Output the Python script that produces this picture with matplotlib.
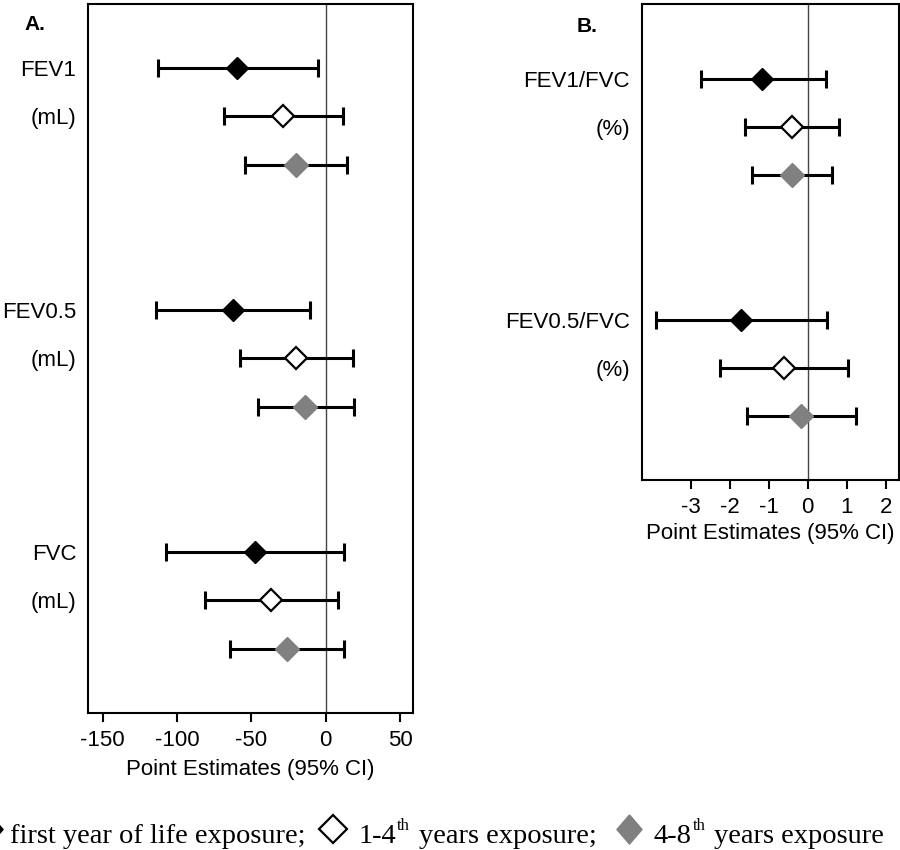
import matplotlib
matplotlib.use("Agg")
import matplotlib.pyplot as plt
from matplotlib.lines import Line2D
import numpy as np

plt.rcParams['font.family'] = ['Liberation Sans', 'DejaVu Sans']

# panel A: FEV1, FEV0.5, FVC (mL)
a_names = ['FEV1', 'FEV0.5', 'FVC']
a_unit = '(mL)'
a_first_est = [-59.4, -62.7, -47.3]
a_first_lo = [-112.8, -113.9, -107.2]
a_first_hi = [-5.4, -10.8, 12.6]
a_mid_est = [-28.7, -19.7, -36.7]
a_mid_lo = [-68.6, -57.9, -81.0]
a_mid_hi = [11.4, 18.2, 8.3]
a_late_est = [-20.2, -13.7, -26.0]
a_late_lo = [-54.0, -45.8, -64.3]
a_late_hi = [14.4, 19.1, 12.6]
a_ticks = [-150, -100, -50, 0, 50]

# panel B: ratios (%)
b_names = ['FEV1/FVC', 'FEV0.5/FVC']
b_unit = '(%)'
b_first_est = [-1.16, -1.71]
b_first_lo = [-2.74, -3.90]
b_first_hi = [0.46, 0.49]
b_mid_est = [-0.39, -0.61]
b_mid_lo = [-1.61, -2.25]
b_mid_hi = [0.80, 1.03]
b_late_est = [-0.39, -0.17]
b_late_lo = [-1.42, -1.56]
b_late_hi = [0.63, 1.24]
b_ticks = [-3, -2, -1, 0, 1, 2]

GRAY = '#808080'
W, H = 900, 850


def px_axes(fig, left, top, right, bottom):
    return fig.add_axes([left / W, 1 - bottom / H, (right - left) / W, (bottom - top) / H])


def draw_panel(ax, names, unit, series, xlim, ylim, ticks, labelpad=7):
    n = len(names)
    styles = [
        dict(marker='D', ms=11.2, mfc='black', mec='black', mew=1.0),
        dict(marker='D', ms=10.8, mfc='white', mec='black', mew=1.6),
        dict(marker='D', ms=12, mfc=GRAY, mec=GRAY, mew=1.0),
    ]
    ax.axvline(0, color='#444444', lw=1.0, zorder=1)
    for k, ((est, lo, hi), st) in enumerate(zip(series, styles)):
        est = np.array(est)
        y = np.arange(n) * 5 + k
        err = [est - np.array(lo), np.array(hi) - est]
        ax.errorbar(est, y, xerr=err, fmt='none', ecolor='black',
                    elinewidth=2.2, capsize=6.5, capthick=2.2, zorder=2)
        ax.plot(est, y, ls='none', zorder=3, **st)

    yt, yl = [], []
    for i, name in enumerate(names):
        yt += [i * 5, i * 5 + 1]
        yl += [name, unit]
    ax.set_yticks(yt)
    ax.set_yticklabels(yl, fontsize=16)
    ax.tick_params(axis='y', length=0, pad=8.5)
    ax.set_xticks(ticks)
    ax.set_xticklabels([str(t) for t in ticks], fontsize=16)
    ax.tick_params(axis='x', length=6.5, width=1.5, pad=6, direction='out')
    ax.set_xlim(*xlim)
    ax.set_ylim(*ylim)
    ax.set_xlabel('Point Estimates (95% CI)', fontsize=16, labelpad=labelpad)
    for sp in ax.spines.values():
        sp.set_linewidth(1.5)


fig = plt.figure(figsize=(9, 8.5), dpi=100)

ax_a = px_axes(fig, 88, 4.3, 413, 712.7)
draw_panel(ax_a, a_names, a_unit,
           [(a_first_est, a_first_lo, a_first_hi),
            (a_mid_est, a_mid_lo, a_mid_hi),
            (a_late_est, a_late_lo, a_late_hi)],
           (-159.9, 58.7), (13.32, -1.316), a_ticks, labelpad=6)

ax_b = px_axes(fig, 641.7, 4, 898.5, 480)
draw_panel(ax_b, b_names, b_unit,
           [(b_first_est, b_first_lo, b_first_hi),
            (b_mid_est, b_mid_lo, b_mid_hi),
            (b_late_est, b_late_lo, b_late_hi)],
           (-4.256, 2.33), (8.32, -1.556), b_ticks, labelpad=3)

fig.text(24 / W, 1 - 25 / H, 'A.', fontsize=15, fontweight='bold', va='center', ha='left')
fig.text(577 / W, 1 - 27 / H, 'B.', fontsize=15, fontweight='bold', va='center', ha='left')

# bottom key line, pieces chained left to right
serif = ['Liberation Serif', 'DejaVu Serif']
base = 1 - 843 / H
sup = 1 - 830 / H
mark_y = 1 - 829 / H
renderer = fig.canvas.get_renderer()
tall_diamond = [(0, 1), (0.86, 0), (0, -1), (-0.86, 0), (0, 1)]


def key_text(x, s, y=base, fs=20.5):
    t = fig.text(x / W, y, s, fontsize=fs, family=serif, va='baseline', ha='left')
    return t.get_window_extent(renderer).x1


def key_mark(x, **st):
    fig.add_artist(Line2D([x / W], [mark_y], transform=fig.transFigure, ls='none', **st))


key_mark(-10, marker=tall_diamond, ms=21, mfc='black', mec='black')
end = key_text(10, 'first year of life exposure;')
c = end + 27
key_mark(c, marker='D', ms=14.5, mfc='white', mec='black', mew=1.6)
end = key_text(c + 26, '1-4')
end = key_text(end + 1, 'th', sup, 12)
end = key_text(end + 9, 'years exposure;')
c = end + 32
key_mark(c, marker=tall_diamond, ms=21, mfc=GRAY, mec=GRAY)
end = key_text(c + 25, '4-8')
end = key_text(end + 1, 'th', sup, 12)
key_text(end + 8, 'years exposure')

fig.savefig('out.png', dpi=100)
